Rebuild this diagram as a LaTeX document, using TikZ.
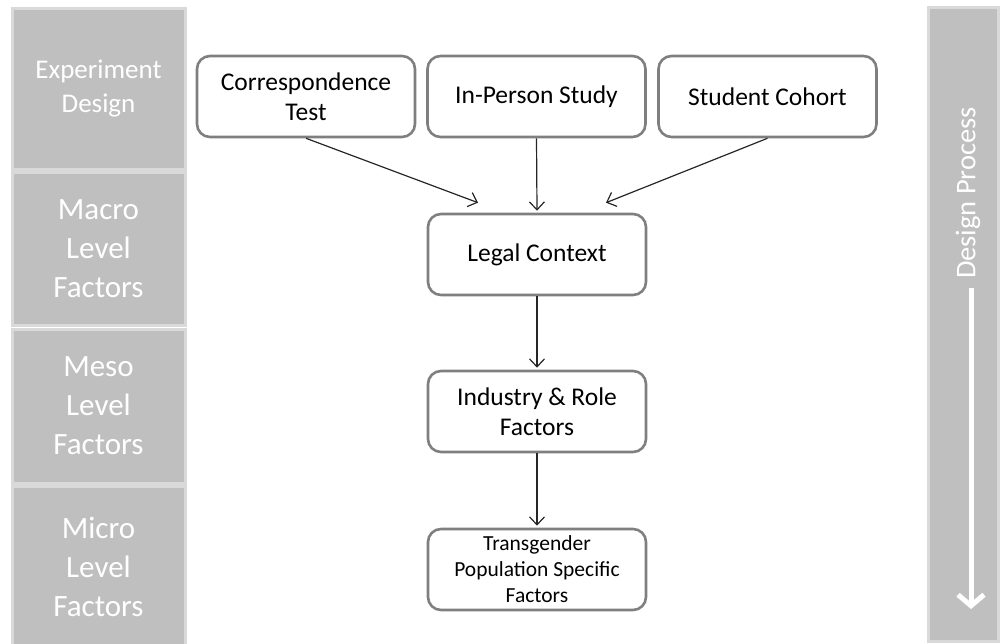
\documentclass[tikz,border=0pt]{standalone}
\usepackage{fontspec}
\setmainfont{Carlito}
\usetikzlibrary{arrows.meta}
\definecolor{colfill}{HTML}{BFBFBF}
\definecolor{colborder}{HTML}{D9D9D9}
\definecolor{boxborder}{HTML}{7F7F7F}
\definecolor{arrcol}{HTML}{262626}
\tikzset{
  levelbox/.style={draw=colborder, fill=colfill, line width=3pt, text=white,
    minimum width=173pt, align=center, inner sep=0pt},
  flowbox/.style={draw=boxborder, fill=white, line width=2.6pt, rounded corners=13pt,
    minimum width=218pt, minimum height=81pt, align=center, inner sep=0pt,
    font=\fontsize{25.5}{30}\selectfont},
  flowarrow/.style={draw=arrcol, line width=1.2pt,
    -{Straight Barb[length=8pt,width=15pt]}},
}
\begin{document}
\begin{tikzpicture}[x=1pt,y=-1pt]
\useasboundingbox (0,0) rectangle (1000,644);
% left column
\node[levelbox, minimum height=161pt, font=\fontsize{27}{34}\selectfont] (exp) at (98.5,89) {Experiment\\Design};
\node[levelbox, minimum height=153pt, font=\fontsize{31}{39}\selectfont] (macro) at (98.5,249) {Macro\\Level\\Factors};
\node[levelbox, minimum height=154pt, font=\fontsize{31}{39}\selectfont] (meso) at (98.5,406) {Meso\\Level\\Factors};
\node[levelbox, minimum height=162pt, font=\fontsize{31}{39}\selectfont] (micro) at (98.5,567) {Micro\\Level\\Factors};
% right column
\node[draw=colborder, fill=colfill, line width=3pt, minimum width=70pt, minimum height=633pt, inner sep=0pt] (proc) at (963,324.5) {};
\node[rotate=90, text=white, font=\fontsize{28.5}{32}\selectfont, inner sep=0pt] (proctext) at (968,193) {Design Process};
\coordinate (pstart) at (971,288);
\coordinate (pend) at (971,609);
\draw[white, line width=5pt, -{Straight Barb[length=11pt,width=26pt]}] (pstart) -- (pend);
% flow nodes
\node[flowbox] (corr) at (306,96.5) {Correspondence\\Test};
\node[flowbox] (inp) at (536.5,96.5) {In-Person Study};
\node[flowbox] (stu) at (767.5,96.5) {Student Cohort};
\node[flowbox] (legal) at (537,254.5) {Legal Context};
\node[flowbox] (ind) at (537,411.5) {Industry \& Role\\Factors};
\node[flowbox, font=\fontsize{21.5}{26}\selectfont] (trans) at (537,569.5) {Transgender\\Population Specific\\Factors};
% connectors
\draw[flowarrow] (corr.south) -- ([xshift=-59pt,yshift=10pt]legal.north);
\draw[flowarrow] (inp.south) -- ([yshift=2pt]legal.north);
\draw[flowarrow] (stu.south) -- ([xshift=69pt,yshift=10pt]legal.north);
\draw[flowarrow] (legal.south) -- ([yshift=2pt]ind.north);
\draw[flowarrow] (ind.south) -- ([yshift=2pt]trans.north);
\end{tikzpicture}
\end{document}
